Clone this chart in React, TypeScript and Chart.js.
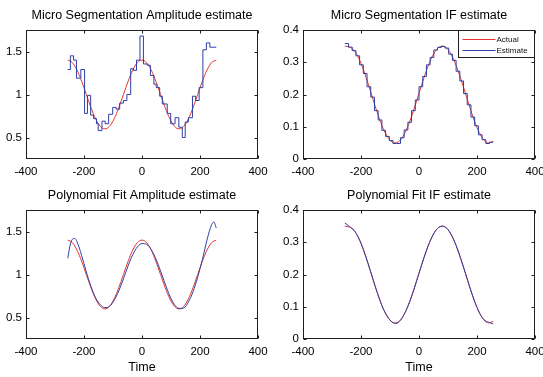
import React, { useEffect, useRef } from "react";
import { Chart, registerables } from "chart.js";

Chart.register(...registerables);

const FONT = "'Liberation Sans', Arial, Helvetica, sans-serif";
const RED = "#e3342c";
const BLUE = "#2f3fa6";

// Axis ticks
const timeTicks = [-400, -200, 0, 200, 400];
const ampTicks = [0.5, 1, 1.5];
const ifTicks = [0, 0.1, 0.2, 0.3, 0.4];

// Smooth reference curves sampled every 16 time units
const actualTimes = [
  -256, -240, -224, -208, -192, -176, -160, -144, -128, -112, -96, -80, -64, -48, -32, -16,
  0, 16, 32, 48, 64, 80, 96, 112, 128, 144, 160, 176, 192, 208, 224, 240, 256,
];
const actualAmplitude = [
  1.4, 1.37, 1.283, 1.153, 1.0, 0.847, 0.717, 0.63, 0.6, 0.63, 0.717, 0.847, 1.0, 1.153, 1.283, 1.37,
  1.4, 1.37, 1.283, 1.153, 1.0, 0.847, 0.717, 0.63, 0.6, 0.63, 0.717, 0.847, 1.0, 1.153, 1.283, 1.37, 1.4,
];
const actualIF = [
  0.35, 0.347, 0.337, 0.313, 0.278, 0.235, 0.189, 0.144, 0.104, 0.074, 0.055, 0.05, 0.059, 0.082, 0.116, 0.158,
  0.204, 0.249, 0.29, 0.322, 0.343, 0.35, 0.343, 0.322, 0.29, 0.249, 0.204, 0.158, 0.116, 0.082, 0.059, 0.05, 0.055,
];

// Micro segmentation amplitude estimate: segment start times and held values
const segAmpTimes = [
  -256, -247, -236, -226, -211, -198, -188, -177, -167, -157, -151, -138, -127, -115, -101, -89, -77, -64, -52,
  -39, -29, -19, -7, 5, 18, 29, 41, 49, 61, 70, 87, 99, 114, 127, 139, 149, 160, 174, 185, 197, 210, 222, 234, 256,
];
const segAmpValues = [
  1.29, 1.45, 1.4, 1.19, 1.29, 0.78, 0.99, 0.76, 0.72, 0.66, 0.58, 0.69, 0.66, 0.77, 0.85, 0.83, 0.9, 0.93, 1.0,
  1.3, 1.28, 1.4, 1.68, 1.355, 1.34, 1.22, 1.12, 1.08, 0.98, 0.89, 0.78, 0.66, 0.73, 0.62, 0.5, 0.68, 0.73, 0.98,
  0.93, 1.08, 1.52, 1.6, 1.55, 1.55,
];

// Micro segmentation IF estimate: segment start times and held values
const segIFTimes = [
  -256, -243.2, -230.4, -217.6, -204.8, -192, -179.2, -166.4, -153.6, -140.8, -128, -115.2, -102.4, -89.6,
  -76.8, -64, -51.2, -38.4, -25.6, -12.8, 0, 12.8, 25.6, 38.4, 51.2, 64, 76.8, 89.6, 102.4, 115.2, 128, 140.8,
  153.6, 166.4, 179.2, 192, 204.8, 217.6, 230.4, 243.2, 256,
];
const segIFValues = [
  0.358, 0.347, 0.336, 0.32, 0.292, 0.265, 0.224, 0.192, 0.15, 0.121, 0.089, 0.07, 0.057, 0.048, 0.048, 0.066,
  0.09, 0.114, 0.15, 0.183, 0.224, 0.256, 0.292, 0.315, 0.338, 0.346, 0.349, 0.344, 0.325, 0.306, 0.272, 0.242,
  0.203, 0.168, 0.13, 0.103, 0.075, 0.06, 0.048, 0.052, 0.052,
];

// Polynomial fit estimates
const polyAmpTimes = [
  -256, -248, -240, -232, -224, -208, -192, -176, -160, -144, -128, -112, -96, -80, -64, -48, -32, -16, 0, 16,
  32, 48, 64, 80, 96, 112, 128, 144, 160, 176, 192, 208, 224, 240, 248, 256,
];
const polyAmpValues = [
  1.19, 1.34, 1.41, 1.42, 1.38, 1.22, 1.03, 0.86, 0.73, 0.65, 0.615, 0.63, 0.7, 0.81, 0.95, 1.1, 1.23, 1.32,
  1.36, 1.35, 1.29, 1.18, 1.04, 0.89, 0.75, 0.65, 0.605, 0.61, 0.68, 0.8, 0.97, 1.17, 1.4, 1.58, 1.61, 1.54,
];
const polyIFValues = [
  0.36, 0.349, 0.337, 0.313, 0.278, 0.235, 0.189, 0.144, 0.104, 0.074, 0.055, 0.048, 0.058, 0.082, 0.116, 0.158,
  0.204, 0.249, 0.29, 0.322, 0.343, 0.35, 0.343, 0.322, 0.29, 0.249, 0.204, 0.158, 0.116, 0.082, 0.06, 0.052, 0.047,
];

type Series = { label: string; times: number[]; values: number[]; color: string; stepped?: boolean; order: number };

type PanelSpec = {
  title: string;
  plot: { left: number; top: number; right: number; bottom: number };
  rightPad: number;
  xAxisH: number;
  yMin: number;
  yMax: number;
  yTicks: number[];
  series: Series[];
  legend?: boolean;
  timeLabel?: boolean;
};

const Y_AXIS_W = 26;
const TITLE_H = 30;

const toPoints = (times: number[], values: number[]) => times.map((t, i) => ({ x: t, y: values[i] }));

// Boxed axes with inward ticks on all four sides, a centred title and an optional legend
const framePlugin = (spec: PanelSpec) => ({
  id: "frame",
  afterDatasetsDraw(chart: any) {
    const { ctx, chartArea: a, scales } = chart;
    const L = a.left + 0.5;
    const R = a.right - 0.5;
    const T = a.top + 0.5;
    const B = a.bottom - 0.5;
    const len = 3;
    ctx.save();
    ctx.strokeStyle = "#1e1e1e";
    ctx.lineWidth = 1;
    ctx.beginPath();
    for (const t of scales.x.ticks) {
      const px = Math.round(scales.x.getPixelForValue(t.value)) + 0.5;
      ctx.moveTo(px, B);
      ctx.lineTo(px, B - len);
      ctx.moveTo(px, T);
      ctx.lineTo(px, T + len);
    }
    for (const t of scales.y.ticks) {
      const py = Math.round(scales.y.getPixelForValue(t.value)) + 0.5;
      ctx.moveTo(L, py);
      ctx.lineTo(L + len, py);
      ctx.moveTo(R, py);
      ctx.lineTo(R - len, py);
    }
    ctx.stroke();
    ctx.strokeRect(L, T, R - L, B - T);

    ctx.fillStyle = "#000";
    ctx.font = `12.5px ${FONT}`;
    ctx.textAlign = "center";
    ctx.textBaseline = "middle";
    ctx.fillText(spec.title, (a.left + a.right) / 2, a.top - 14);

    if (spec.legend) {
      const w = 76;
      const h = 27;
      const lx = R - w;
      const ly = T;
      ctx.fillStyle = "#ffffff";
      ctx.fillRect(lx, ly, w, h);
      ctx.strokeStyle = "#1e1e1e";
      ctx.strokeRect(lx, ly, w, h);
      ctx.font = `8px ${FONT}`;
      ctx.textBaseline = "middle";
      ctx.textAlign = "left";
      spec.series.forEach((s, i) => {
        const y = Math.round(ly + 8 + i * 11) + 0.5;
        ctx.strokeStyle = s.color;
        ctx.beginPath();
        ctx.moveTo(lx + 4, y);
        ctx.lineTo(lx + 37, y);
        ctx.stroke();
        ctx.fillStyle = "#111";
        ctx.fillText(s.label, lx + 38, y);
      });
    }
    ctx.restore();
  },
});

function Panel({ spec }: { spec: PanelSpec }) {
  const ref = useRef<HTMLCanvasElement>(null);
  const plotW = spec.plot.right - spec.plot.left;
  const plotH = spec.plot.bottom - spec.plot.top;
  const width = Y_AXIS_W + plotW + spec.rightPad;
  const height = TITLE_H + plotH + spec.xAxisH;
  const left = spec.plot.left - Y_AXIS_W;
  const top = spec.plot.top - TITLE_H;

  useEffect(() => {
    const tickFont = { family: FONT, size: 11.5 };
    const chart = new Chart(ref.current!, {
      type: "line",
      data: {
        datasets: spec.series.map((s) => ({
          label: s.label,
          data: toPoints(s.times, s.values),
          borderColor: s.color,
          backgroundColor: s.color,
          borderWidth: 1,
          pointRadius: 0,
          fill: false,
          stepped: s.stepped ? "before" : false,
          tension: s.stepped ? 0 : 0.4,
          cubicInterpolationMode: s.stepped ? "default" : "monotone",
          order: s.order,
        })),
      },
      options: {
        responsive: false,
        animation: false,
        devicePixelRatio: 1,
        layout: { padding: { left: 0, right: spec.rightPad, top: TITLE_H, bottom: 0 } },
        plugins: {
          legend: { display: false },
          tooltip: { enabled: false },
          title: { display: false },
        },
        scales: {
          x: {
            type: "linear",
            min: -400,
            max: 400,
            grid: { display: false, drawTicks: false },
            border: { display: false },
            afterBuildTicks: (s: any) => {
              s.ticks = timeTicks.map((v) => ({ value: v }));
            },
            afterFit: (s: any) => {
              s.height = spec.xAxisH;
              s.paddingLeft = 0;
              s.paddingRight = 0;
            },
            ticks: {
              padding: 6,
              color: "#000",
              font: tickFont,
              maxRotation: 0,
              autoSkip: false,
              callback: (v: any) => String(v),
            },
            title: {
              display: !!spec.timeLabel,
              text: "Time",
              color: "#000",
              font: { family: FONT, size: 12.5 },
              padding: { top: 0, bottom: 1.5 },
            },
          },
          y: {
            type: "linear",
            min: spec.yMin,
            max: spec.yMax,
            grid: { display: false, drawTicks: false },
            border: { display: false },
            afterBuildTicks: (s: any) => {
              s.ticks = spec.yTicks.map((v) => ({ value: v }));
            },
            afterFit: (s: any) => {
              s.width = Y_AXIS_W;
              s.paddingTop = 0;
              s.paddingBottom = 0;
            },
            ticks: {
              padding: 4,
              color: "#000",
              font: tickFont,
              autoSkip: false,
              callback: (v: any) => String(v),
            },
          },
        },
      } as any,
      plugins: [framePlugin(spec)],
    });
    return () => chart.destroy();
  }, []);

  return (
    <canvas
      ref={ref}
      width={width}
      height={height}
      style={{ position: "absolute", left, top, width, height }}
    />
  );
}

const panels: PanelSpec[] = [
  {
    title: "Micro Segmentation Amplitude estimate",
    plot: { left: 26, top: 30, right: 258, bottom: 159 },
    rightPad: 12,
    xAxisH: 30,
    yMin: 0.25,
    yMax: 1.75,
    yTicks: ampTicks,
    series: [
      { label: "Actual", times: actualTimes, values: actualAmplitude, color: RED, order: 1 },
      { label: "Estimate", times: segAmpTimes, values: segAmpValues, color: BLUE, stepped: true, order: 0 },
    ],
  },
  {
    title: "Micro Segmentation IF estimate",
    plot: { left: 303, top: 30, right: 535, bottom: 159 },
    rightPad: 8,
    xAxisH: 30,
    yMin: 0,
    yMax: 0.4,
    yTicks: ifTicks,
    legend: true,
    series: [
      { label: "Actual", times: actualTimes, values: actualIF, color: RED, order: 1 },
      { label: "Estimate", times: segIFTimes, values: segIFValues, color: BLUE, stepped: true, order: 0 },
    ],
  },
  {
    title: "Polynomial Fit Amplitude estimate",
    plot: { left: 26, top: 210, right: 258, bottom: 339 },
    rightPad: 12,
    xAxisH: 38,
    yMin: 0.25,
    yMax: 1.75,
    yTicks: ampTicks,
    timeLabel: true,
    series: [
      { label: "Actual", times: actualTimes, values: actualAmplitude, color: RED, order: 1 },
      { label: "Estimate", times: polyAmpTimes, values: polyAmpValues, color: BLUE, order: 0 },
    ],
  },
  {
    title: "Polynomial Fit IF estimate",
    plot: { left: 303, top: 210, right: 535, bottom: 339 },
    rightPad: 8,
    xAxisH: 38,
    yMin: 0,
    yMax: 0.4,
    yTicks: ifTicks,
    timeLabel: true,
    series: [
      { label: "Actual", times: actualTimes, values: actualIF, color: RED, order: 1 },
      { label: "Estimate", times: actualTimes, values: polyIFValues, color: BLUE, order: 0 },
    ],
  },
];

export default function App() {
  return (
    <div
      style={{
        position: "absolute",
        left: 0,
        top: 0,
        width: 543,
        height: 377,
        background: "#fff",
        overflow: "hidden",
      }}
    >
      {panels.map((p, i) => (
        <Panel key={i} spec={p} />
      ))}
    </div>
  );
}
